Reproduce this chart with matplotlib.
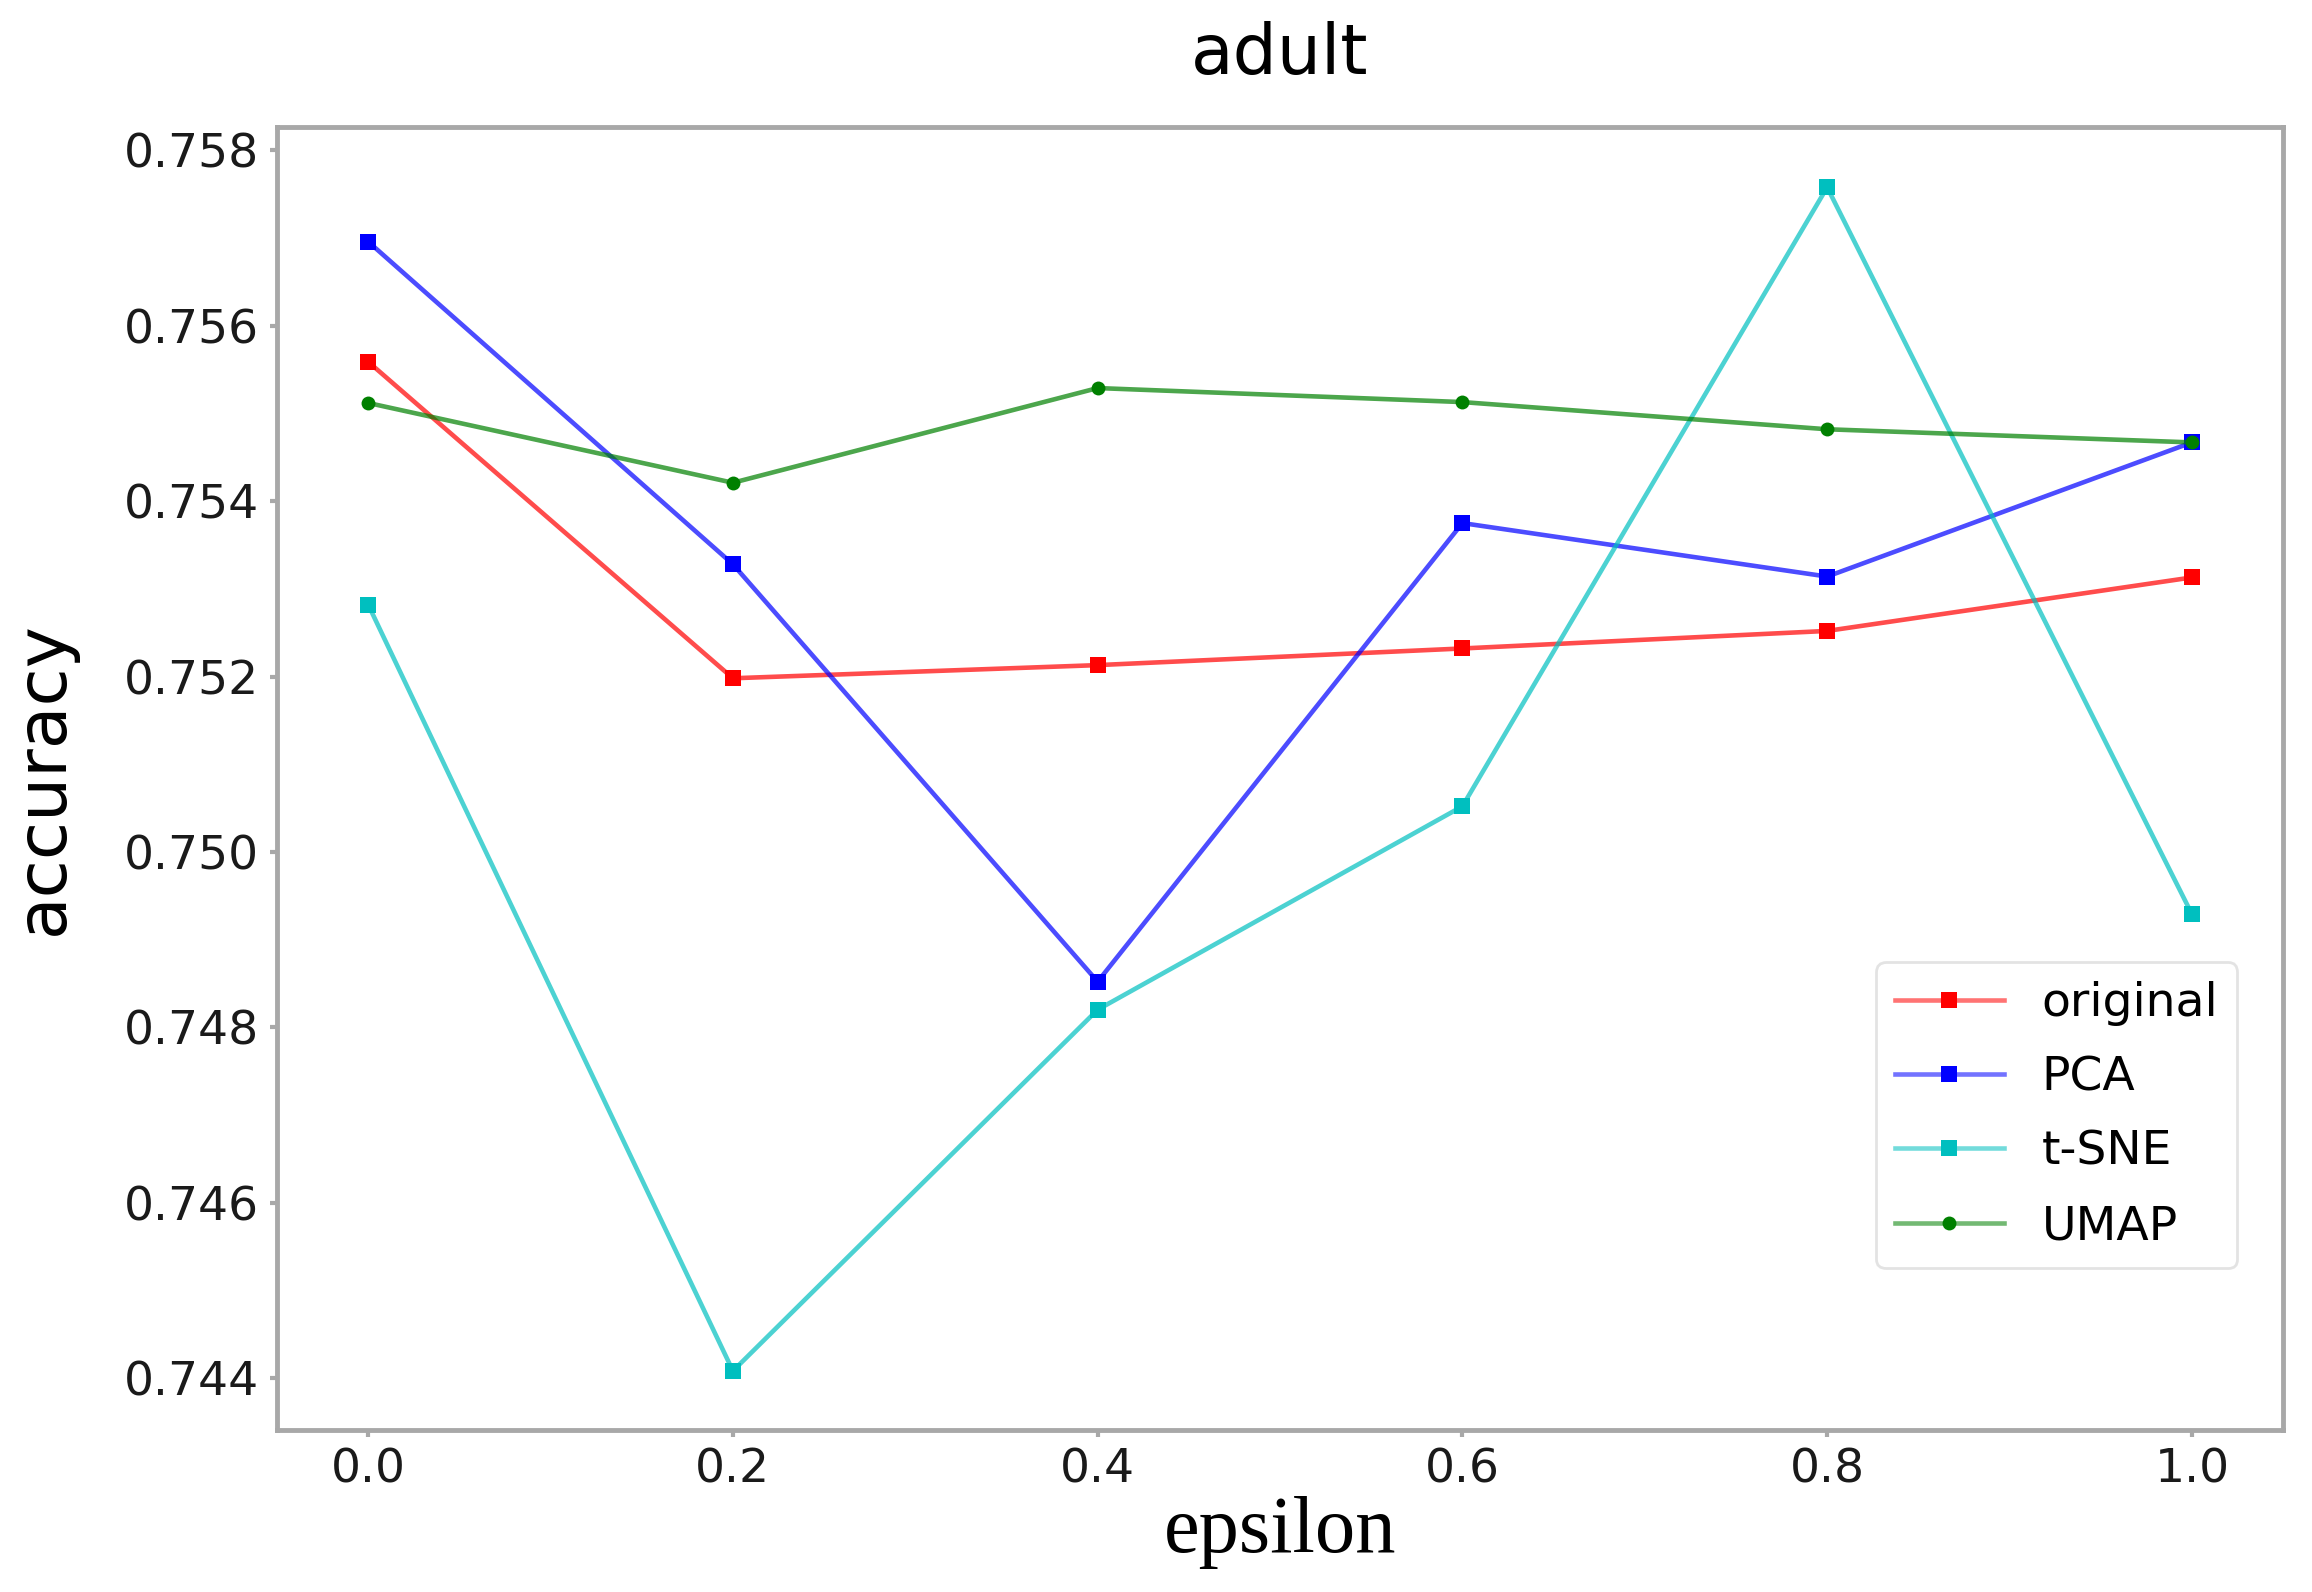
import matplotlib
matplotlib.use("Agg")
import matplotlib.pyplot as plt
from matplotlib.lines import Line2D

epsilon = [0.0, 0.2, 0.4, 0.6, 0.8, 1.0]
original = [0.75559, 0.75198, 0.75213, 0.75232, 0.75252, 0.75313]
pca = [0.75696, 0.75328, 0.74852, 0.75375, 0.75314, 0.75467]
tsne = [0.75282, 0.74408, 0.74820, 0.75052, 0.75758, 0.74929]
umap = [0.75512, 0.75421, 0.75529, 0.75513, 0.75482, 0.75467]

series = [
    ("original", original, "r", "s", 12),
    ("PCA", pca, "b", "s", 12),
    ("t-SNE", tsne, "c", "s", 12),
    ("UMAP", umap, "g", "o", 10),
]

fig = plt.figure(figsize=(23.12, 15.92), dpi=100)
ax = fig.add_axes([0.1198, 0.1018, 0.8677, 0.8184])

for name, vals, col, mk, ms in series:
    ax.plot(epsilon, vals, color=col, alpha=0.7, linewidth=3.3, label=name)
    ax.plot(epsilon, vals, color=col, linestyle="none", marker=mk,
            markersize=ms, markeredgewidth=0)

handles = []
for name, vals, col, mk, ms in series:
    h = Line2D([], [], color=matplotlib.colors.to_rgba(col, 0.55), linewidth=3.3,
               marker=mk, markersize=ms, markeredgewidth=0,
               markerfacecolor=col, markeredgecolor=col)
    handles.append(h)

ax.set_xlim(-0.05, 1.05)
ax.set_ylim(0.743407, 0.758267)
ax.set_xticks(epsilon)
ax.set_xticklabels(["0.0", "0.2", "0.4", "0.6", "0.8", "1.0"])
yt = [0.744, 0.746, 0.748, 0.750, 0.752, 0.754, 0.756, 0.758]
ax.set_yticks(yt)
ax.set_yticklabels(["%.3f" % v for v in yt])

for sp in ax.spines.values():
    sp.set_color("#a8a8a8")
    sp.set_linewidth(3.5)
ax.tick_params(axis="both", labelsize=34, colors="#a8a8a8", labelcolor="#1a1a1a",
               length=5, width=3, pad=8)

ax.set_title("adult", fontsize=50, pad=38, family="DejaVu Sans")
ax.set_ylabel("accuracy", fontsize=50, labelpad=34, family="DejaVu Sans")
ax.set_xlabel("epsilon", fontsize=58, labelpad=2,
              family=["Liberation Serif", "DejaVu Serif"])

leg = ax.legend(handles, [s[0] for s in series], loc="lower right",
                bbox_to_anchor=(0.977, 0.1243), borderaxespad=0,
                fontsize=34, handlelength=2.3, handletextpad=0.8,
                labelspacing=0.62, frameon=True, fancybox=True)
leg.get_frame().set_edgecolor("#dddddd")
leg.get_frame().set_linewidth(2)

fig.savefig("out.png", dpi=100)
